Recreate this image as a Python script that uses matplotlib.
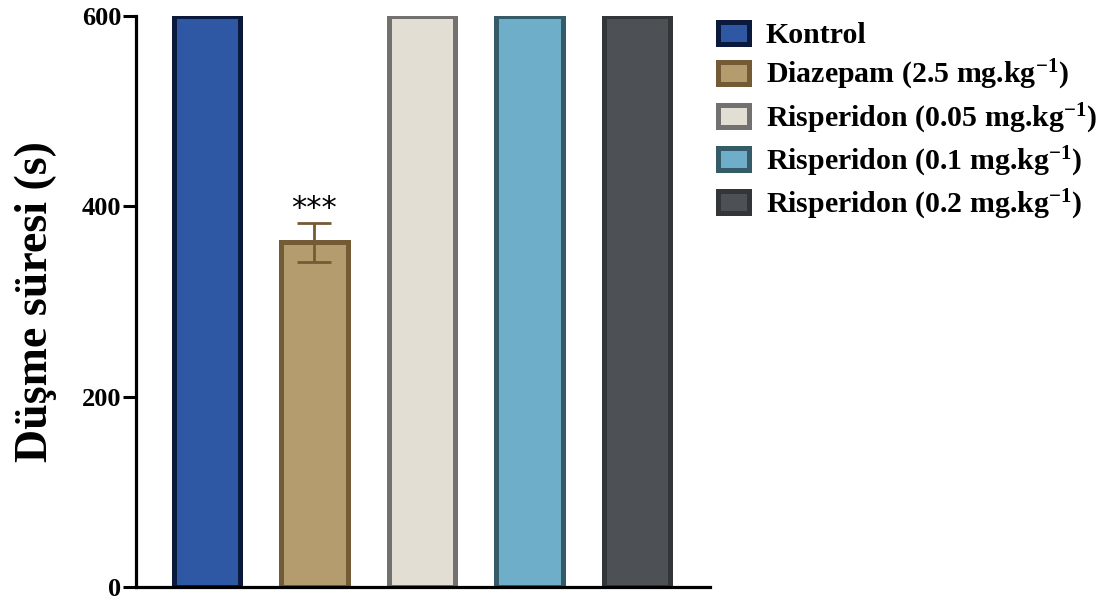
import matplotlib
matplotlib.use("Agg")
import matplotlib.pyplot as plt
import numpy as np

# Times-like bold text everywhere
plt.rcParams["font.family"] = "Liberation Serif"
plt.rcParams["font.weight"] = "bold"
plt.rcParams["axes.labelweight"] = "bold"
plt.rcParams["mathtext.fontset"] = "custom"
plt.rcParams["mathtext.rm"] = "Liberation Serif:bold"
plt.rcParams["mathtext.bf"] = "Liberation Serif:bold"
plt.rcParams["mathtext.default"] = "bf"

groups = ["Kontrol",
          "Diazepam (2.5 mg.kg$^{-1}$)",
          "Risperidon (0.05 mg.kg$^{-1}$)",
          "Risperidon (0.1 mg.kg$^{-1}$)",
          "Risperidon (0.2 mg.kg$^{-1}$)"]
means = [600, 362, 600, 600, 600]
sems = [0, 20, 0, 0, 0]
stars = ["", "***", "", "", ""]

fills = ["#2E57A4", "#B59C6E", "#E3DED3", "#6FAEC8", "#4D5054"]
edges = ["#0B1A3C", "#735C35", "#727170", "#365B68", "#333639"]

fig = plt.figure(figsize=(11.08, 6), dpi=100)
ax = fig.add_axes([136 / 1108, 13 / 600, 574 / 1108, 571 / 600])

x = np.arange(len(groups))
for i in x:
    ax.bar(i, means[i], width=0.62, color=fills[i], edgecolor=edges[i],
           linewidth=3.6, label=groups[i], zorder=2)
    if sems[i] > 0:
        ax.errorbar(i, means[i], yerr=sems[i], fmt="none", ecolor=edges[i],
                    elinewidth=2, capsize=12.5, capthick=2, zorder=3)
    if stars[i]:
        ax.text(i, means[i] + sems[i] + 16, stars[i], ha="center", va="center",
                fontsize=22, fontweight="normal", family="DejaVu Sans")

ax.set_xlim(-0.66, 4.68)
ax.set_ylim(0, 600)
ax.set_yticks([0, 200, 400, 600])
ax.set_xticks([])
ax.tick_params(axis="y", length=9.5, width=2.2, labelsize=19, pad=1)
for side in ["top", "right"]:
    ax.spines[side].set_visible(False)
for side in ["left", "bottom"]:
    ax.spines[side].set_linewidth(2.3)
ax.set_ylabel("Düşme süresi (s)", fontsize=33, labelpad=18)

fig.legend(loc="upper left", bbox_to_anchor=(718 / 1108, 1 - 22 / 600),
           frameon=False, fontsize=21.5, borderpad=0, borderaxespad=0,
           handlelength=1.05, handleheight=0.75, handletextpad=0.55,
           labelspacing=0.3)

fig.savefig("out.png", dpi=100)
